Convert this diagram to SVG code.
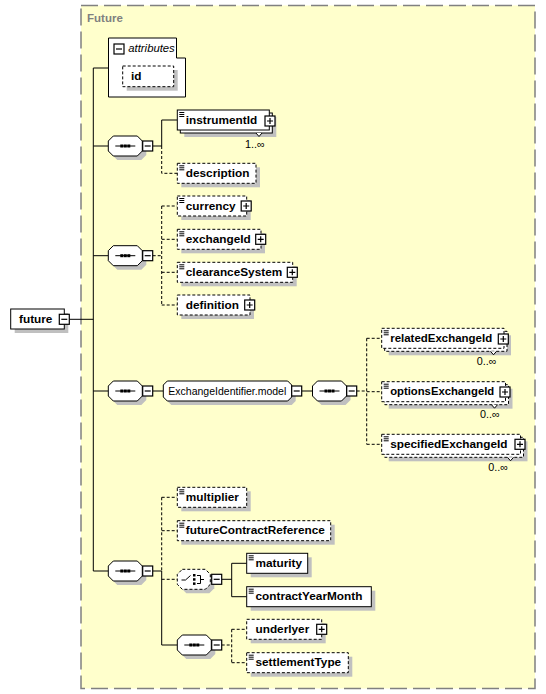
<svg xmlns="http://www.w3.org/2000/svg" width="546" height="694" viewBox="0 0 546 694">
<style>
text{font-family:"Liberation Sans",Arial,sans-serif;fill:#000}
.el{font-size:11.8px;font-weight:bold}
.mul{font-size:10.8px}
.box{fill:#fff;stroke:#000;stroke-width:1}
.dash{stroke-dasharray:3 2}
.sh{fill:#c0c0c0;stroke:none}
.ln{fill:none;stroke:#000;stroke-width:1}
.dl{fill:none;stroke:#000;stroke-width:1;stroke-dasharray:3 2}
</style>
<defs>
<g id="minus"><rect x="0" y="0" width="10" height="10" fill="#fff" stroke="#000" stroke-width="1.2"/><path d="M2,5H8" stroke="#000" stroke-width="1.2"/></g>
<g id="plus"><rect x="0" y="0" width="10" height="10" fill="#fff" stroke="#000" stroke-width="1.2"/><path d="M2,5H8M5,2V8" stroke="#000" stroke-width="1.2"/></g>
<path id="doc" d="M2,2.5H7M2,4.5H7M2,6.5H7" stroke="#000" stroke-width="1" fill="none"/>
<g id="seq"><path class="sh" transform="translate(4,4)" d="M5,0H29L34,5V15L29,20H5L0,15V5Z"/><path class="box" d="M5,0H29L34,5V15L29,20H5L0,15V5Z"/><path d="M7,10H27" stroke="#000" stroke-width="1"/><rect x="12" y="8.5" width="3" height="3"/><rect x="15.5" y="8.5" width="3" height="3"/><rect x="19" y="8.5" width="3" height="3"/></g>
<path id="vmark" d="M-3,0L0,3.5L3,0" fill="#fff" stroke="#000" stroke-width="1"/>
</defs>

<rect x="81" y="5.5" width="454" height="683" fill="#ffffcc" stroke="#808080" stroke-width="1.5" stroke-dasharray="17 6"/>
<text x="87" y="22" style="font-size:11.5px;font-weight:bold;fill:#808080">Future</text>

<g id="connectors">
<path class="ln" d="M69.3,319.3H93.3M93.3,68V571M93.3,68H108.5M93.3,146H108.3M93.3,255.7H108.3M93.3,391H108.3M93.3,571H108.3"/>
<path class="ln" d="M152.7,146H161.7M161.7,120V146M161.7,120H177.3"/>
<path class="dl" d="M161.7,146V173.3H177.3"/>
<path class="dl" d="M152.7,255.7H161.7M161.7,206V305M161.7,206H177.3M161.7,239.3H177.3M161.7,272.3H177.3M161.7,305H177.3"/>
<path class="ln" d="M152.7,391H163.3M301.7,391H312.5"/>
<path class="dl" d="M356.7,391H366.7M366.7,338.3V444.3M366.7,338.3H381.7M366.7,391.7H381.7M366.7,444.3H381.7"/>
<path class="ln" d="M152.7,571H161.7M161.7,571V645H177.3"/>
<path class="dl" d="M161.7,497.3V571M161.7,497.3H177.3M161.7,530.7H177.3M161.7,579.3H177.3"/>
<path class="ln" d="M221.7,579.3H231.7M231.7,563.3V596.7M231.7,563.3H246.7M231.7,596.7H246.7"/>
<path class="dl" d="M221.7,645H231.7M231.7,629.3V662.7M231.7,629.3H246.7M231.7,662.7H246.7"/>
</g>

<g id="future">
<rect class="sh" x="14.7" y="313" width="53.6" height="20"/>
<rect class="box" x="10.7" y="309" width="53.6" height="20"/>
<text class="el" x="19" y="323">future</text>
<use href="#minus" x="59.3" y="314.3"/>
</g>

<g id="attributes">
<path class="box" d="M108.5,38H176.5V58H185.5V97H108.5Z"/>
<use href="#minus" x="114" y="44"/>
<text x="128.3" y="51.7" style="font-size:11.3px;font-style:italic">attributes</text>
<g id="attr-id">
<rect class="sh" x="126.7" y="70" width="51" height="20.7"/>
<rect class="box dash" x="122.7" y="66" width="51" height="20.7"/>
<text class="el" x="131" y="79.5">id</text>
</g>
</g>

<g id="seq1"><use href="#seq" x="108.3" y="136"/><use href="#minus" x="142.7" y="141"/></g>

<g id="instrumentId">
<rect class="sh" x="184.3" y="117" width="92" height="20"/>
<rect class="box" x="180.3" y="113" width="92" height="20"/>
<rect class="box" x="177.3" y="110" width="92" height="20"/>
<use href="#vmark" x="259" y="133"/>
<use href="#doc" x="177.3" y="110"/>
<text class="el" x="185.8" y="123.5">instrumentId</text>
<use href="#plus" x="265" y="116"/>
<text class="mul" x="245" y="147.7">1..∞</text>
</g>

<g id="description">
<rect class="sh" x="181.3" y="167.3" width="78.7" height="20"/>
<rect class="box dash" x="177.3" y="163.3" width="78.7" height="20"/>
<use href="#doc" x="177.3" y="163.3"/>
<text class="el" x="185.8" y="176.8">description</text>
</g>

<g id="seq2"><use href="#seq" x="108.3" y="245.7"/><use href="#minus" x="142.7" y="250.7"/></g>

<g id="currency">
<rect class="sh" x="181.3" y="200" width="69.4" height="20"/>
<rect class="box dash" x="177.3" y="196" width="69.4" height="20"/>
<use href="#doc" x="177.3" y="196"/>
<text class="el" x="185.8" y="209.5">currency</text>
<use href="#plus" x="241.2" y="201"/>
</g>

<g id="exchangeId">
<rect class="sh" x="181.3" y="233.3" width="83.7" height="20"/>
<rect class="box dash" x="177.3" y="229.3" width="83.7" height="20"/>
<use href="#doc" x="177.3" y="229.3"/>
<text class="el" x="185.8" y="242.8">exchangeId</text>
<use href="#plus" x="255.7" y="234.3"/>
</g>

<g id="clearanceSystem">
<rect class="sh" x="181.3" y="266.3" width="115.4" height="20"/>
<rect class="box dash" x="177.3" y="262.3" width="115.4" height="20"/>
<use href="#doc" x="177.3" y="262.3"/>
<text class="el" x="185.8" y="275.8">clearanceSystem</text>
<use href="#plus" x="287.3" y="267.3"/>
</g>

<g id="definition">
<rect class="sh" x="181.3" y="299" width="72.7" height="20"/>
<rect class="box dash" x="177.3" y="295" width="72.7" height="20"/>
<text class="el" x="185.8" y="308.5">definition</text>
<use href="#plus" x="244.7" y="300"/>
</g>

<g id="seq3"><use href="#seq" x="108.3" y="381"/><use href="#minus" x="142.7" y="386"/></g>

<g id="ExchangeIdentifier.model">
<path class="sh" transform="translate(4,4)" d="M167.3,381H287.7L291.7,385V397L287.7,401H167.3L163.3,397V385Z"/>
<path class="box" d="M167.3,381H287.7L291.7,385V397L287.7,401H167.3L163.3,397V385Z"/>
<text x="168.3" y="394.5" style="font-size:11px" textLength="118" lengthAdjust="spacingAndGlyphs">ExchangeIdentifier.model</text>
<use href="#minus" x="291.7" y="386"/>
</g>

<g id="seq4"><use href="#seq" x="312.5" y="381"/><use href="#minus" x="346.7" y="386"/></g>

<g id="relatedExchangeId">
<rect class="sh" x="388.7" y="335.3" width="122.3" height="20"/>
<rect class="box dash" x="384.7" y="331.3" width="122.3" height="20"/>
<rect class="box dash" x="381.7" y="328.3" width="122.3" height="20"/>
<use href="#vmark" x="493.5" y="351.3"/>
<use href="#doc" x="381.7" y="328.3"/>
<text class="el" x="390.2" y="341.8" textLength="102" lengthAdjust="spacingAndGlyphs">relatedExchangeId</text>
<use href="#plus" x="498.3" y="334"/>
<text class="mul" x="476.7" y="365">0..∞</text>
</g>

<g id="optionsExchangeId">
<rect class="sh" x="388.7" y="388.7" width="123.8" height="20"/>
<rect class="box dash" x="384.7" y="384.7" width="123.8" height="20"/>
<rect class="box dash" x="381.7" y="381.7" width="123.8" height="20"/>
<use href="#vmark" x="494.5" y="404.7"/>
<use href="#doc" x="381.7" y="381.7"/>
<text class="el" x="390.2" y="395.2" textLength="104" lengthAdjust="spacingAndGlyphs">optionsExchangeId</text>
<use href="#plus" x="500" y="387"/>
<text class="mul" x="480" y="418.3">0..∞</text>
</g>

<g id="specifiedExchangeId">
<rect class="sh" x="388.7" y="441.3" width="138.8" height="20"/>
<rect class="box dash" x="384.7" y="437.3" width="138.8" height="20"/>
<rect class="box dash" x="381.7" y="434.3" width="138.8" height="20"/>
<use href="#vmark" x="510.5" y="457.3"/>
<use href="#doc" x="381.7" y="434.3"/>
<text class="el" x="390.2" y="447.8">specifiedExchangeId</text>
<use href="#plus" x="515" y="439.3"/>
<text class="mul" x="488.3" y="470.7">0..∞</text>
</g>

<g id="seq5"><use href="#seq" x="108.3" y="561"/><use href="#minus" x="142.7" y="566"/></g>

<g id="multiplier">
<rect class="sh" x="181.3" y="491.3" width="69.4" height="20"/>
<rect class="box dash" x="177.3" y="487.3" width="69.4" height="20"/>
<use href="#doc" x="177.3" y="487.3"/>
<text class="el" x="185.8" y="500.8">multiplier</text>
</g>

<g id="futureContractReference">
<rect class="sh" x="181.3" y="524.7" width="153.4" height="20"/>
<rect class="box dash" x="177.3" y="520.7" width="153.4" height="20"/>
<use href="#doc" x="177.3" y="520.7"/>
<text class="el" x="185.8" y="534.2">futureContractReference</text>
</g>

<g id="choice">
<path class="sh" transform="translate(4,4)" d="M182.3,569.3H205.3L210.3,574.3V584.3L205.3,589.3H182.3L177.3,584.3V574.3Z"/>
<path class="box dash" d="M182.3,569.3H205.3L210.3,574.3V584.3L205.3,589.3H182.3L177.3,584.3V574.3Z"/>
<path class="ln" d="M181.5,580H185.5L190.5,575.5M197,575.5H200.5V583.5H197M200.5,579.5H204"/>
<rect x="193" y="574" width="2.5" height="2.5"/>
<rect x="193" y="578.2" width="2.5" height="2.5"/>
<rect x="193" y="582.4" width="2.5" height="2.5"/>
<use href="#minus" x="211.7" y="574.3"/>
</g>

<g id="maturity">
<rect class="sh" x="250.7" y="557.3" width="61" height="20"/>
<rect class="box" x="246.7" y="553.3" width="61" height="20"/>
<use href="#doc" x="246.7" y="553.3"/>
<text class="el" x="255.5" y="566.8">maturity</text>
</g>

<g id="contractYearMonth">
<rect class="sh" x="250.7" y="590.7" width="124.6" height="20"/>
<rect class="box" x="246.7" y="586.7" width="124.6" height="20"/>
<use href="#doc" x="246.7" y="586.7"/>
<text class="el" x="255.5" y="600.2">contractYearMonth</text>
</g>

<g id="seq6"><use href="#seq" x="177.3" y="635"/><use href="#minus" x="211.7" y="640"/></g>

<g id="underlyer">
<rect class="sh" x="250.7" y="623.3" width="75" height="20"/>
<rect class="box dash" x="246.7" y="619.3" width="75" height="20"/>
<text class="el" x="255.5" y="632.8">underlyer</text>
<use href="#plus" x="316.7" y="624.3"/>
</g>

<g id="settlementType">
<rect class="sh" x="250.7" y="656.7" width="101.6" height="20"/>
<rect class="box dash" x="246.7" y="652.7" width="101.6" height="20"/>
<use href="#doc" x="246.7" y="652.7"/>
<text class="el" x="255.5" y="666.2">settlementType</text>
</g>
</svg>
